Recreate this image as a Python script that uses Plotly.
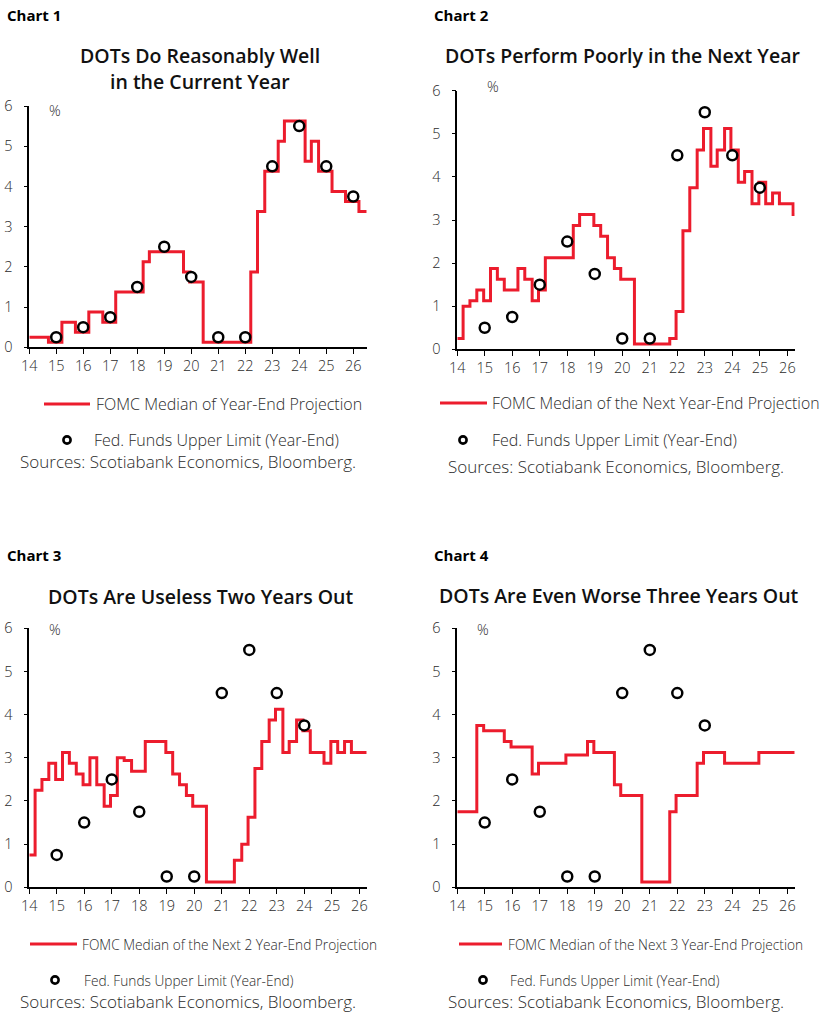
import plotly.graph_objects as go

# ---------------- data ----------------
MEETINGS = [
    "2014-03-19", "2014-06-18", "2014-09-17", "2014-12-17",
    "2015-03-18", "2015-06-17", "2015-09-17", "2015-12-16",
    "2016-03-16", "2016-06-15", "2016-09-21", "2016-12-14",
    "2017-03-15", "2017-06-14", "2017-09-20", "2017-12-13",
    "2018-03-21", "2018-06-13", "2018-09-26", "2018-12-19",
    "2019-03-20", "2019-06-19", "2019-09-18", "2019-12-11",
    "2020-06-10", "2020-09-16", "2020-12-16",
    "2021-03-17", "2021-06-16", "2021-09-22", "2021-12-15",
    "2022-03-16", "2022-06-15", "2022-09-21", "2022-12-14",
    "2023-03-22", "2023-06-14", "2023-09-20", "2023-12-13",
    "2024-03-20", "2024-06-12", "2024-09-18", "2024-12-18",
    "2025-03-19", "2025-06-18", "2025-09-17", "2025-12-10",
    "2026-03-18",
]
START_DATE = "2014-01-01"

# FOMC median (initial value + one per meeting)
median_current = [0.25,
    0.25, 0.25, 0.125, 0.125,
    0.625, 0.625, 0.375, 0.375,
    0.875, 0.875, 0.625, 0.625,
    1.375, 1.375, 1.375, 1.375,
    2.125, 2.375, 2.375, 2.375,
    2.375, 2.375, 1.875, 1.625,
    0.125, 0.125, 0.125,
    0.125, 0.125, 0.125, 0.125,
    1.875, 3.375, 4.375, 4.375,
    5.125, 5.625, 5.625, 5.625,
    4.625, 5.125, 4.375, 4.375,
    3.875, 3.875, 3.625, 3.625,
    3.375]
median_next1 = [0.25,
    1.0, 1.125, 1.375, 1.125,
    1.875, 1.625, 1.375, 1.375,
    1.875, 1.625, 1.125, 1.375,
    2.125, 2.125, 2.125, 2.125,
    2.875, 3.125, 3.125, 2.875,
    2.625, 2.125, 1.875, 1.625,
    0.125, 0.125, 0.125,
    0.125, 0.125, 0.25, 0.875,
    2.75, 3.75, 4.625, 5.125,
    4.25, 4.625, 5.125, 4.625,
    3.875, 4.125, 3.375, 3.875,
    3.375, 3.625, 3.375, 3.375,
    3.125]
median_next2 = [0.75,
    2.25, 2.5, 2.875, 2.5,
    3.125, 2.875, 2.625, 2.375,
    3.0, 2.375, 1.875, 2.125,
    3.0, 2.9375, 2.6875, 2.6875,
    3.375, 3.375, 3.375, 3.125,
    2.625, 2.375, 2.125, 1.875,
    0.125, 0.125, 0.125,
    0.125, 0.625, 1.0, 1.625,
    2.75, 3.375, 3.875, 4.125,
    3.125, 3.375, 3.875, 3.625,
    3.125, 3.125, 2.875, 3.375,
    3.125, 3.375, 3.125, 3.125,
    3.125]
median_next3 = [1.75,
    1.75, 1.75, 3.75, 3.625,
    3.625, 3.625, 3.375, 3.25,
    3.25, 3.25, 2.625, 2.875,
    2.875, 2.875, 2.875, 3.0625,
    3.0625, 3.0625, 3.375, 3.125,
    3.125, 3.125, 2.375, 2.125,
    2.125, 0.125, 0.125,
    0.125, 0.125, 1.75, 2.125,
    2.125, 2.125, 2.875, 3.125,
    3.125, 3.125, 2.875, 2.875,
    2.875, 2.875, 2.875, 3.125,
    3.125, 3.125, 3.125, 3.125,
    3.125]

# Fed funds upper limit, plotted at year-end
ff_years_1 = [2014, 2015, 2016, 2017, 2018, 2019, 2020, 2021, 2022, 2023, 2024, 2025]
ff_vals_1 = [0.25, 0.5, 0.75, 1.5, 2.5, 1.75, 0.25, 0.25, 4.5, 5.5, 4.5, 3.75]
ff_years_2 = [2014, 2015, 2016, 2017, 2018, 2019, 2020, 2021, 2022, 2023, 2024]
ff_vals_2 = [0.5, 0.75, 1.5, 2.5, 1.75, 0.25, 0.25, 4.5, 5.5, 4.5, 3.75]
ff_years_3 = [2014, 2015, 2016, 2017, 2018, 2019, 2020, 2021, 2022, 2023]
ff_vals_3 = [0.75, 1.5, 2.5, 1.75, 0.25, 0.25, 4.5, 5.5, 4.5, 3.75]
ff_years_4 = [2014, 2015, 2016, 2017, 2018, 2019, 2020, 2021, 2022]
ff_vals_4 = [1.5, 2.5, 1.75, 0.25, 0.25, 4.5, 5.5, 4.5, 3.75]

chart_labels = ["Chart 1", "Chart 2", "Chart 3", "Chart 4"]
titles = [
    ["DOTs Do Reasonably Well", "in the Current Year"],
    ["DOTs Perform Poorly in the Next Year"],
    ["DOTs Are Useless Two Years Out"],
    ["DOTs Are Even Worse Three Years Out"],
]
line_names = [
    "FOMC Median of Year-End Projection",
    "FOMC Median of the Next Year-End Projection",
    "FOMC Median of the Next 2 Year-End Projection",
    "FOMC Median of the Next 3 Year-End Projection",
]
dot_name = "Fed. Funds Upper Limit (Year-End)"
source_text = "Sources: Scotiabank Economics, Bloomberg."
x_end = ["2026-07-01", "2026-04-08", "2026-04-08", "2026-04-08"]

# ---------------- layout helpers ----------------
W, H = 828, 1023
RED = "#EC1C2D"
TXT = "#2b2b2b"
FONT = "Open Sans"
LIGHT = 300

def px(x):
    return x / W

def py(y):
    return 1 - y / H

# plot areas in pixels: (left, right, top, bottom)
areas = [
    (29.3, 366.7, 106.0, 347.3),
    (457.3, 794.7, 90.7, 349.3),
    (29.3, 366.7, 628.3, 887.3),
    (457.3, 794.7, 628.3, 887.3),
]

medians = [median_current, median_next1, median_next2, median_next3]
ff_years = [ff_years_1, ff_years_2, ff_years_3, ff_years_4]
ff_vals = [ff_vals_1, ff_vals_2, ff_vals_3, ff_vals_4]

fig = go.Figure()
layout_axes = {}
for i in range(4):
    sfx = "" if i == 0 else str(i + 1)
    xs = [START_DATE] + MEETINGS + [x_end[i]]
    ys = medians[i] + [medians[i][-1]]
    fig.add_trace(go.Scatter(
        x=xs, y=ys, mode="lines", line=dict(color=RED, width=3, shape="hv"),
        xaxis="x" + sfx, yaxis="y" + sfx, showlegend=False, name=line_names[i],
        cliponaxis=False))
    fig.add_trace(go.Scatter(
        x=[f"{y}-12-31" for y in ff_years[i]], y=ff_vals[i], mode="markers",
        marker=dict(symbol="circle", size=10, color="white",
                    line=dict(color="black", width=2.5)),
        xaxis="x" + sfx, yaxis="y" + sfx, showlegend=False, name=dot_name,
        cliponaxis=False))
    l, r, t, b = areas[i]
    layout_axes["xaxis" + sfx] = dict(
        domain=[px(l), px(r)], anchor="y" + sfx, type="date", automargin=False,
        range=[START_DATE, x_end[i]], tick0="2014-01-01", dtick="M12",
        tickformat="%y", showline=True, linecolor="black", linewidth=1.5,
        ticks="outside", ticklen=5, tickwidth=1.2, tickcolor="black",
        showgrid=False, zeroline=False,
        tickfont=dict(family=FONT, size=14.5, color=TXT, weight=LIGHT))
    layout_axes["yaxis" + sfx] = dict(
        domain=[py(b), py(t)], anchor="x" + sfx, range=[0, 6], dtick=1,
        automargin=False,
        showline=True, linecolor="black", linewidth=1.5,
        ticks="outside", ticklen=4, tickwidth=1.2, tickcolor="black",
        showgrid=False, zeroline=False, ticklabelstandoff=8,
        tickfont=dict(family=FONT, size=14.5, color=TXT, weight=LIGHT))

annotations = []
shapes = []

# chart labels and titles
label_pos = [(5, 15), (432, 15), (5, 555), (432, 555)]
title_pos = [[(200, 56), (200, 81)], [(622, 56)], [(200, 596)], [(619, 595)]]
for i in range(4):
    annotations.append(dict(
        text=chart_labels[i], x=px(label_pos[i][0]), y=py(label_pos[i][1]),
        xref="paper", yref="paper", xanchor="left", yanchor="middle", showarrow=False,
        font=dict(family=FONT, size=15, color="black", weight=700)))
    for line_txt, (tx, ty) in zip(titles[i], title_pos[i]):
        annotations.append(dict(
            text=line_txt, x=px(tx), y=py(ty),
            xref="paper", yref="paper", xanchor="center", yanchor="middle", showarrow=False,
            font=dict(family=FONT, size=19.5, color="#111111", weight=600)))

# percent labels
pct_pos = [(55, 110), (493, 86), (55, 629), (483, 629)]
for (x, y) in pct_pos:
    annotations.append(dict(text="%", x=px(x), y=py(y), xref="paper", yref="paper",
                            xanchor="center", yanchor="middle", showarrow=False,
                            font=dict(family=FONT, size=14.5, color=TXT, weight=LIGHT)))

# legends
leg = [
    dict(lx0=44, lx1=90, ly=404, tx=94, ts=16, cx=67, cy=440, ctx=92, cts=16, sx=18, sy=461),
    dict(lx0=440, lx1=487, ly=403, tx=490, ts=15.8, cx=463, cy=440, ctx=490, cts=16, sx=446, sy=466),
    dict(lx0=30, lx1=77, ly=944, tx=80, ts=13.7, cx=55, cy=980, ctx=82, cts=13.7, sx=18, sy=1001),
    dict(lx0=459, lx1=502, ly=944, tx=506, ts=13.7, cx=483, cy=980, ctx=508, cts=13.7, sx=446, sy=1001),
]
for i, g in enumerate(leg):
    shapes.append(dict(type="line", xref="paper", yref="paper",
                       x0=px(g["lx0"]), x1=px(g["lx1"]), y0=py(g["ly"]), y1=py(g["ly"]),
                       line=dict(color=RED, width=3)))
    annotations.append(dict(text=line_names[i], x=px(g["tx"]), y=py(g["ly"]),
                            xref="paper", yref="paper", xanchor="left", yanchor="middle",
                            showarrow=False,
                            font=dict(family=FONT, size=g["ts"], color=TXT, weight=LIGHT)))
    shapes.append(dict(type="circle", xref="paper", yref="paper",
                       xsizemode="pixel", ysizemode="pixel",
                       xanchor=px(g["cx"]), yanchor=py(g["cy"]),
                       x0=-3.6, x1=3.6, y0=-3.6, y1=3.6,
                       line=dict(color="black", width=2.6), fillcolor="white"))
    annotations.append(dict(text=dot_name, x=px(g["ctx"]), y=py(g["cy"]),
                            xref="paper", yref="paper", xanchor="left", yanchor="middle",
                            showarrow=False,
                            font=dict(family=FONT, size=g["cts"], color=TXT, weight=LIGHT)))
    annotations.append(dict(text=source_text, x=px(g["sx"]), y=py(g["sy"]),
                            xref="paper", yref="paper", xanchor="left", yanchor="middle",
                            showarrow=False,
                            font=dict(family=FONT, size=17, color=TXT, weight=LIGHT)))

fig.update_layout(
    width=W, height=H, margin=dict(l=0, r=0, t=0, b=0, autoexpand=False),
    paper_bgcolor="white", plot_bgcolor="white",
    annotations=annotations, shapes=shapes, showlegend=False,
    **layout_axes)

fig.write_html("out.html")
